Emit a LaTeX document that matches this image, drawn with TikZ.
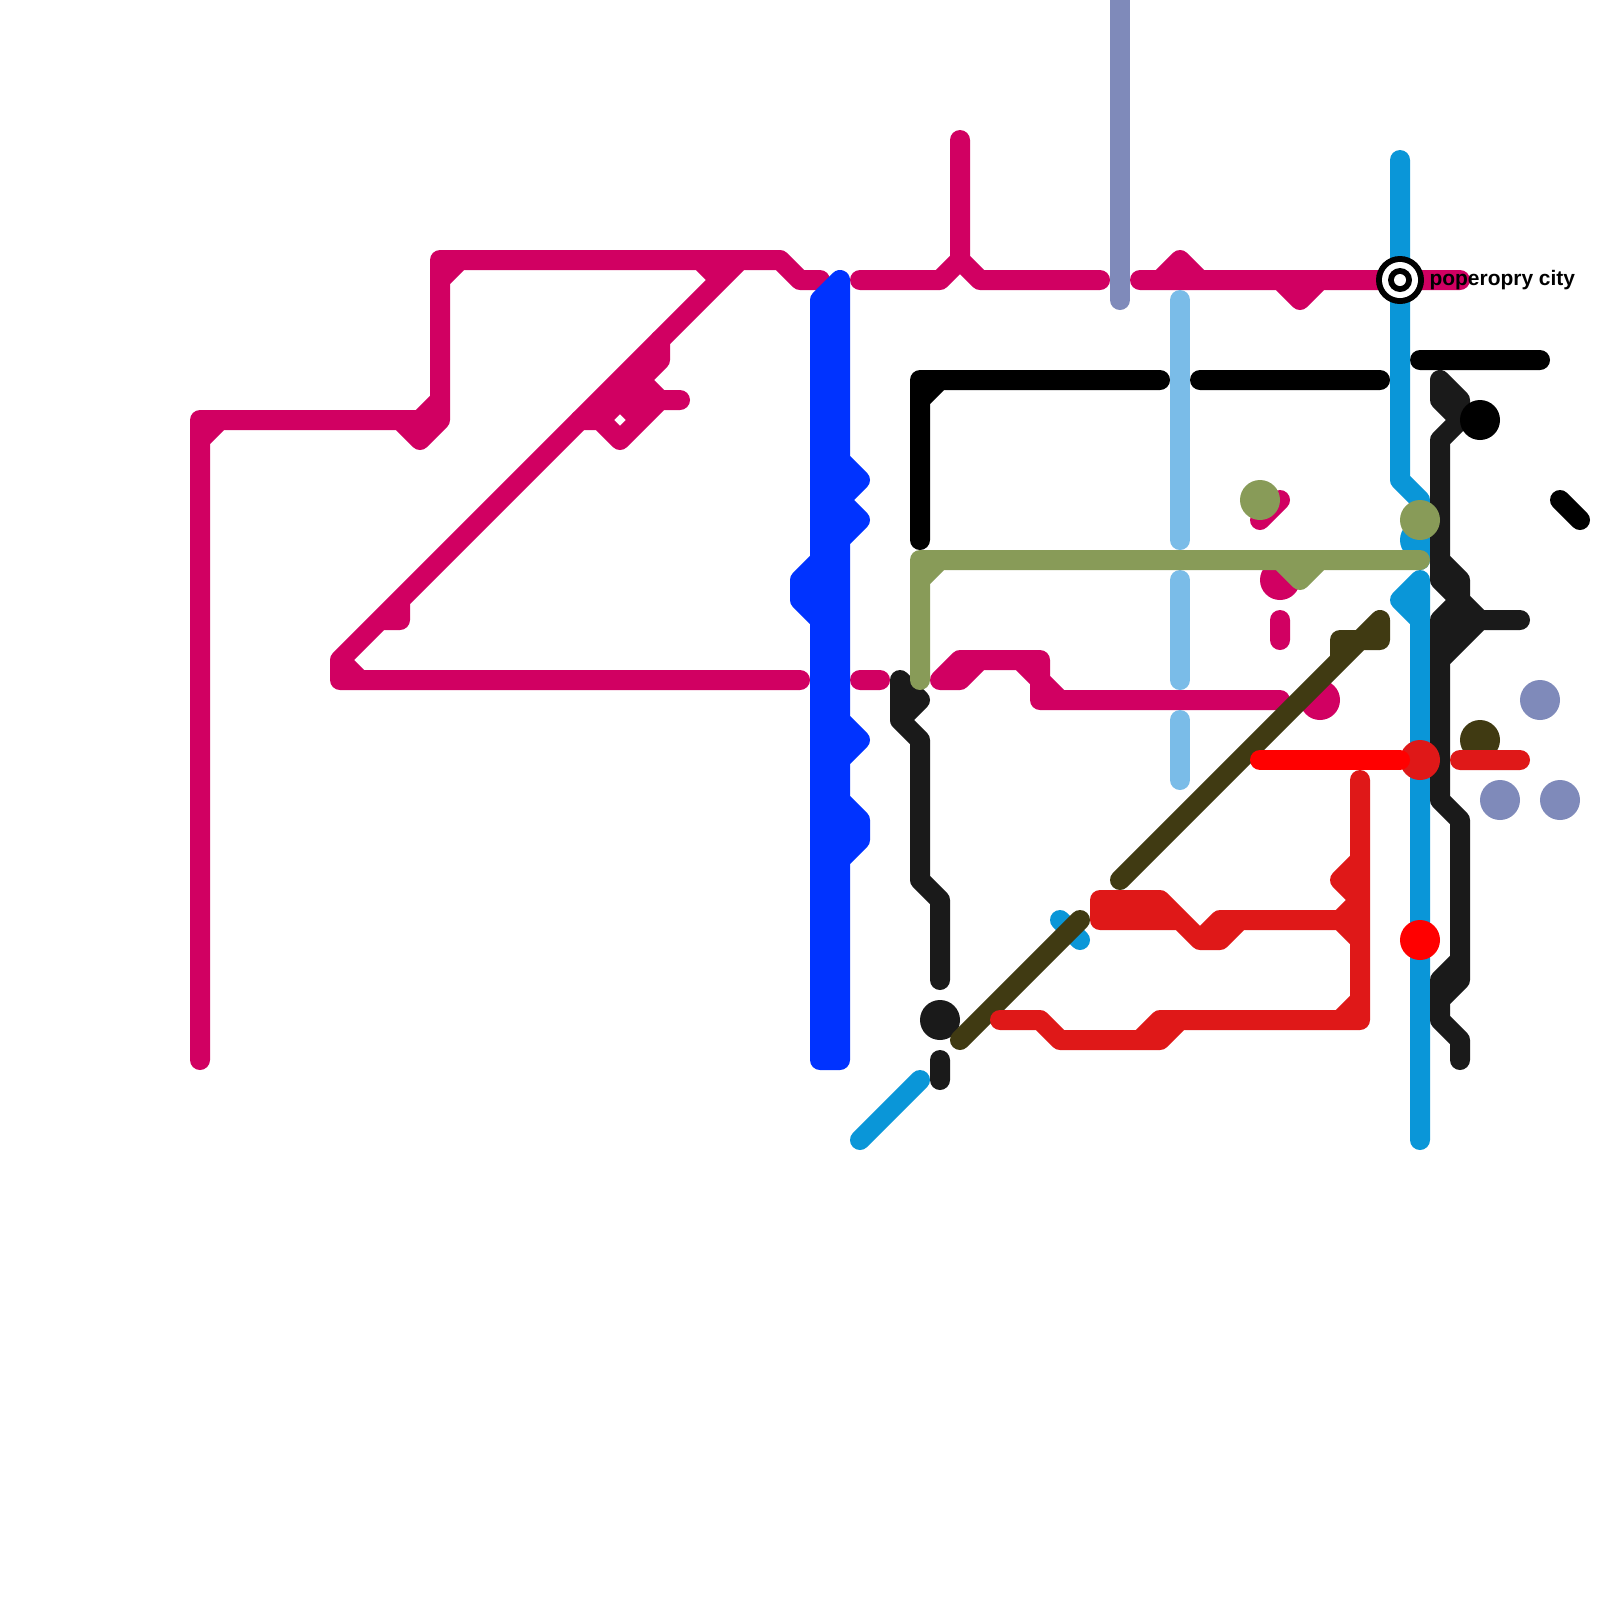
\documentclass[tikz,border=0pt]{standalone}
\usepackage{fontspec}
\setmainfont{Liberation Sans}
\usetikzlibrary{positioning}
\definecolor{popmagenta}{HTML}{D10062}
\definecolor{popblue}{HTML}{0033FF}
\definecolor{popperi}{HTML}{7F8ABA}
\definecolor{poplight}{HTML}{7ABCE8}
\definecolor{popsky}{HTML}{0A96D8}
\definecolor{popdark}{HTML}{1A1A1A}
\definecolor{popolive}{HTML}{889B58}
\definecolor{popbrown}{HTML}{403A12}
\definecolor{popred}{HTML}{DF1818}
\definecolor{popbright}{HTML}{FF0000}
\begin{document}
\begin{tikzpicture}[x=2.5mm, y=-2.5mm,
    metroline/.style={line width=2.5mm, line cap=round, line join=round},
    citylabel/.style={font=\fontsize{7.45}{9}\selectfont\bfseries, inner sep=0pt, anchor=base west}]
  \useasboundingbox (0,0) rectangle (80,80);

  % Magenta line, west side
  \draw[metroline, popmagenta]
    (10,53) -- (10,21) -- (21,21) -- (22,20) -- (22,13) -- (39,13) -- (40,14) -- (41,14)
    (10,22) -- (11,21)
    (20,21) -- (21,22) -- (22,21) -- (22,20)
    (22,14) -- (23,13)
    (35,13) -- (36,14) -- (17,33) -- (17,34) -- (40,34)
    (37,13) -- (36,14)
    (17,33) -- (18,34)
    (19,31) -- (20,31) -- (20,30);
  \draw[metroline, popmagenta]
    (33,17) -- (33,18) -- (30,21) -- (29,21)
    (30,21) -- (31,22) -- (33,20) -- (34,20)
    (32,19) -- (33,20) -- (31,20) -- (32,21);

  % Magenta line, east side
  \draw[metroline, popmagenta]
    (43,14) -- (47,14) -- (48,13) -- (49,14) -- (55,14)
    (48,7) -- (48,13)
    (57,14) -- (73,14)
    (58,14) -- (59,13) -- (60,14)
    (64,14) -- (65,15) -- (66,14);
  \draw[metroline, popmagenta]
    (43,34) -- (44,34)
    (47,34) -- (48,34) -- (49,33)
    (47,34) -- (48,33) -- (52,33) -- (52,35) -- (64,35)
    (51,33) -- (53,35)
    (63,26) -- (64,25)
    (64,31) -- (64,32);
  \fill[popmagenta] (64,29) circle (1);
  \fill[popmagenta] (66,35) circle (1);

  % Blue trunk
  \draw[metroline, popblue]
    (42,14) -- (41,15) -- (41,53) -- (42,53) -- cycle
    (42,23) -- (43,24) -- (42,25) -- (43,26) -- (42,27)
    (41,28) -- (40,29) -- (40,30) -- (41,31)
    (42,36) -- (43,37) -- (42,38)
    (42,40) -- (43,41) -- (43,42) -- (42,43);

  % Periwinkle and light blue
  \draw[metroline, popperi] (56,-1) -- (56,15);
  \draw[metroline, poplight]
    (59,15) -- (59,27)
    (59,29) -- (59,34)
    (59,36) -- (59,39);

  % Black line
  \draw[metroline, black]
    (46,27) -- (46,19) -- (58,19)
    (46,20) -- (47,19)
    (60,19) -- (69,19)
    (71,18) -- (77,18)
    (78,25) -- (79,26);

  % Sky blue line
  \draw[metroline, popsky]
    (70,8) -- (70,24) -- (71,25) -- (71,28)
    (71,29) -- (70,30) -- (71,31) -- (71,57)
    (71,29) -- (71,31)
    (43,57) -- (46,54)
    (53,46) -- (54,47);
  \fill[popsky] (71,27) circle (1);

  % Dark line
  \draw[metroline, popdark]
    (72,20) -- (72,19) -- (73,20) -- (73,21) -- (72,22) -- (72,28) -- (73,29) -- (73,30)
    (72,20) -- (73,21)
    (72,20) -- (73,20)
    (72,28) -- (72,29) -- (73,30) -- (72,31) -- (72,40) -- (73,41) -- (73,49) -- (72,50)
    (72,29) -- (73,29)
    (73,30) -- (74,31) -- (76,31)
    (74,31) -- (72,33)
    (72,31) -- (74,31)
    (72,32) -- (73,32)
    (73,48) -- (72,49) -- (72,51) -- (73,52) -- (73,53)
    (45,34) -- (46,35) -- (45,36) -- (45,34)
    (45,36) -- (46,37) -- (46,44) -- (47,45) -- (47,49)
    (47,53) -- (47,54);
  \fill[popdark] (47,51) circle (1);
  \fill[black] (74,21) circle (1);

  % Olive line
  \draw[metroline, popolive]
    (46,34) -- (46,28) -- (71,28)
    (46,29) -- (47,28)
    (64,28) -- (65,29) -- (66,28);
  \fill[popolive] (63,25) circle (1);
  \fill[popolive] (71,26) circle (1);

  % Brown diagonal
  \fill[popbrown] (74,37) circle (1);
  \draw[metroline, popbrown]
    (48,52) -- (54,46)
    (56,44) -- (69,31) -- (69,32) -- (67,32) -- (67,33);

  % Red network
  \draw[metroline, popred]
    (73,38) -- (76,38)
    (68,39) -- (68,51) -- (58,51) -- (57,52)
    (50,51) -- (52,51) -- (53,52) -- (58,52) -- (59,51)
    (68,50) -- (67,51)
    (68,43) -- (67,44) -- (68,45) -- (67,46) -- (68,47)
    (68,46) -- (62,46) -- (61,47) -- (60,47) -- (58,45) -- (55,45) -- (55,46) -- (59,46)
    (60,47) -- (61,46) -- (62,46);
  \fill[popred] (71,38) circle (1);

  % Bright red
  \draw[metroline, popbright] (63,38) -- (70,38);
  \fill[popbright] (71,47) circle (1);

  % Loose periwinkle stops
  \foreach \px/\py in {77/35, 75/40, 78/40}
    \fill[popperi] (\px,\py) circle (1);

  % Interchange and its label
  \fill[black] (70,14) circle (1.2);
  \fill[white] (70,14) circle (0.9);
  \fill[black] (70,14) circle (0.6);
  \fill[white] (70,14) circle (0.3);
  \node[citylabel] (city) at (71.45,14.25) {poperopry city};
\end{tikzpicture}
\end{document}
